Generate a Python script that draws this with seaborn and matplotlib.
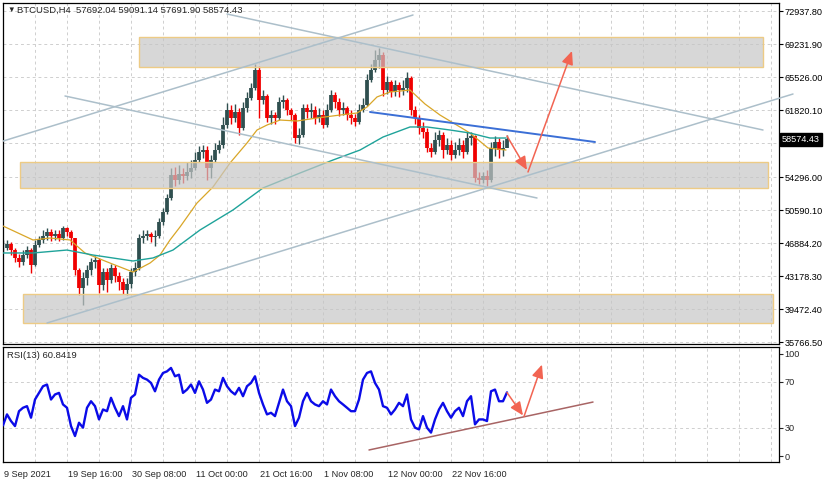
import numpy as np
import matplotlib
matplotlib.use("Agg")
import matplotlib.pyplot as plt
import matplotlib.transforms as mtransforms
from matplotlib.patches import Rectangle
import seaborn as sns

sns.set_style("white")
plt.rcParams['font.family'] = ['Liberation Sans', 'DejaVu Sans']
plt.rcParams['font.size'] = 6.6

# ---------------- data (H4 bars, every 4th bar) ----------------
closes = [46380, 46830, 46150, 45260, 44810, 45590, 46150, 44470, 46720, 47280,
          47730, 48180, 47730, 47950, 47500, 48630, 48180, 47500, 43910, 41890,
          43010, 43910, 44810, 45030, 42220, 43680, 42790, 44130, 43230, 42560,
          41660, 42340, 43680, 44130, 47500, 47730, 47950, 47610, 47730, 49300,
          50420, 51990, 54580, 54020, 54690, 54460, 54910, 55360, 56260, 57160,
          57380, 55360, 56260, 57380, 57950, 60190, 61880, 60980, 61650, 59850,
          62100, 63220, 64350, 66370, 63000, 63450, 60980, 61310, 60980, 62770,
          63000, 61880, 61310, 58730, 59070, 62100, 61650, 61880, 60980, 61310,
          60190, 61880, 63560, 62770, 61880, 62100, 61310, 60980, 60530, 61880,
          62440, 65250, 66370, 67490, 68050, 64120, 65020, 63900, 64680, 64120,
          64350, 65470, 61880, 60980, 59850, 59410, 57610, 57160, 58510, 59070,
          57380, 57950, 56820, 57380, 57950, 57160, 58730, 58960, 54240, 54020,
          54460, 54020, 57610, 58280, 57380, 57610, 58574.43]

highs = [47280, 47280, 47050, 46380, 45700, 46150, 46600, 46380, 47280, 47730,
         48400, 48630, 48510, 48400, 48400, 48850, 48740, 48400, 47500, 44130,
         43680, 44470, 45260, 45480, 45260, 44130, 44130, 44580, 44470, 43680,
         43010, 43010, 44130, 44810, 47950, 48400, 48400, 48180, 48400, 49750,
         50870, 52440, 55360, 55480, 55700, 55360, 56040, 56260, 57160, 57830,
         57950, 57830, 56820, 58170, 58510, 61090, 62660, 62440, 62550, 62100,
         62770, 63900, 64910, 67040, 66820, 64120, 63670, 61880, 61650, 63340,
         63560, 63220, 62100, 61540, 59850, 62550, 62550, 62660, 62330, 62100,
         61880, 62550, 64120, 63900, 63220, 62770, 62330, 61880, 61430, 62550,
         63220, 65920, 67040, 68610, 68840, 68390, 65690, 65250, 65250, 65020,
         65250, 66140, 65690, 62330, 61310, 60530, 59850, 58170, 59410, 59630,
         59410, 58730, 58510, 58280, 58730, 58510, 59410, 59410, 59070, 54910,
         54910, 55140, 58280, 58960, 58730, 58510, 59091.14]

lows = [45930, 46150, 45590, 44810, 44250, 44470, 45260, 43570, 44360, 46490,
        46940, 47280, 47170, 47280, 47170, 47280, 47730, 46720, 43350, 41100,
        39980, 42220, 43350, 44130, 41330, 41660, 41440, 42450, 42560, 41660,
        41210, 41100, 41890, 43230, 43910, 46940, 47280, 47050, 46600, 47500,
        48960, 50200, 51770, 53340, 53570, 53680, 54020, 54240, 55140, 56040,
        56490, 54020, 54240, 56040, 57050, 57610, 59850, 60300, 60530, 59070,
        59630, 61650, 63000, 64120, 60980, 62550, 60530, 60300, 60300, 60750,
        62100, 61310, 60750, 58170, 58060, 58840, 60980, 60980, 60300, 60530,
        59850, 59970, 61650, 62100, 61200, 61310, 60750, 60300, 60080, 60300,
        61650, 62330, 65020, 66140, 66590, 63450, 63670, 63340, 63450, 63340,
        63560, 63900, 61310, 60300, 59180, 58730, 57160, 56600, 56940, 57830,
        56490, 56940, 56260, 56490, 56820, 56490, 56940, 57950, 53790, 53570,
        53680, 53340, 53790, 56710, 56490, 56710, 57691.90]

rsi = [32, 41.6, 35.8, 31.4, 44.4, 47.4, 48.8, 38.7, 54.6, 60.4,
       66.2, 67.7, 54.6, 59, 60.4, 50.3, 47.4, 31.4, 22.7, 34.3,
       30, 47.4, 53.1, 48.8, 37.2, 45.9, 44.4, 56.1, 47.4, 40.1,
       48.8, 37.2, 56.1, 59, 76.3, 73.5, 72, 69.1, 61.8, 72,
       77.8, 79.2, 82.2, 74.9, 76.3, 60.4, 63.3, 67.7, 60.4, 70.5,
       63.3, 51.7, 54.6, 63.3, 61.8, 73.5, 66.2, 61.8, 59, 64.8,
       57.5, 66.2, 69.1, 74.9, 60.4, 50.3, 41.6, 43, 40.1, 51.7,
       63.3, 53.1, 48.8, 31.4, 38.7, 53.1, 60.4, 53.1, 50.3, 48.8,
       53.1, 50.3, 63.3, 57.5, 53.1, 50.3, 47.4, 44.4, 44.4, 54.6,
       72, 77.8, 79.2, 69.1, 63.3, 48.8, 47.4, 41.6, 45.9, 51.7,
       48.8, 59, 37.2, 30, 28.5, 40.1, 30, 25.7, 37.2, 45.9,
       51.7, 44.4, 38.7, 44.4, 47.4, 40.1, 53.1, 57.5, 32.9, 37.2,
       37.2, 35.8, 61.8, 63.3, 53.1, 53.1, 60.84]

# moving averages (bar index, price)
ma_fast_x = [0, 30, 47, 67, 82, 107, 130, 147, 157, 167, 177, 194, 210, 227, 244, 254,
             264, 277, 294, 314, 337, 354, 364, 374, 387, 407, 422, 437, 452, 467, 485, 503]
ma_fast_y = [48850, 47280, 47500, 47280, 45820, 44690, 43680, 44690, 45590, 47280, 48740,
             51430, 53230, 55920, 58170, 59630, 60190, 60750, 60640, 60980, 61310, 61540,
             62210, 63340, 63900, 64120, 62550, 61310, 60300, 59290, 57610, 57380]
ma_slow_x = [0, 30, 64, 90, 130, 150, 170, 197, 230, 260, 297, 330, 357, 380, 407, 424,
             447, 467, 487, 503]
ma_slow_y = [45820, 45820, 46150, 45590, 44920, 45260, 46150, 48400, 50650, 53120, 54800,
             56260, 57380, 58840, 59970, 59970, 59630, 59290, 58730, 58730]

# support / resistance zones
zone_left = [136, 17, 20]
zone_right = [760, 765, 770]
zone_low = [66705, 53117, 37956]
zone_high = [70075, 56037, 41213]

# trend lines
chan_up_x, chan_up_y = [-3, 410], [58283, 72545]
chan_low_x, chan_low_y = [44, 790], [37956, 63673]
down_up_x, down_up_y = [224, 760], [72657, 59630]
down_low_x, down_low_y = [62, 534], [63449, 51994]
blue_x, blue_y = [367, 592], [61652, 58283]

# forecast arrows
arrow1_x, arrow1_y = [504, 524], [58956, 55140]
arrow2_x, arrow2_y = [525, 569], [54914, 68502]
rsi_arrow1_x, rsi_arrow1_y = [504, 520], [60.7, 40.7]
rsi_arrow2_x, rsi_arrow2_y = [521, 539], [39.8, 85.1]
rsi_trend_x, rsi_trend_y = [366, 590], [10.5, 52.4]

price_ticks = [72937.80, 69231.90, 65526.00, 61820.10, 58114.20, 54296.00,
               50590.10, 46884.20, 43178.30, 39472.40, 35766.50]
time_pos = [0, 64, 128, 192, 256, 320, 384, 448]
time_labels = ['9 Sep 2021', '19 Sep 16:00', '30 Sep 08:00', '11 Oct 00:00',
               '21 Oct 16:00', '1 Nov 08:00', '12 Nov 00:00', '22 Nov 16:00']

# ---------------- figure ----------------
W, H = 830, 483
fig = plt.figure(figsize=(W / 100, H / 100), dpi=100, facecolor='white')
ax = fig.add_axes([2.7 / W, 1 - 344 / H, 776.3 / W, 341.3 / H])
ax2 = fig.add_axes([2.7 / W, 1 - 462 / H, 776.3 / W, 115 / H])

grid_kw = dict(color='#CFCFCF', lw=0.7, ls=(0, (3, 3)))
xlim = (-0.3, 776)

# candles
c = np.array(closes)
o = np.r_[c[0], c[:-1]]
hi = np.array(highs)
lo = np.array(lows)
bars = np.arange(len(c)) * 4
up = c >= o
bull, bear = '#2F4F4F', '#F00000'
ax.vlines(bars[up], lo[up], hi[up], color=bull, lw=1.0, zorder=2)
ax.vlines(bars[~up], lo[~up], hi[~up], color=bear, lw=1.0, zorder=2)
ax.vlines(bars[up], o[up], c[up], color=bull, lw=2.7, zorder=2)
ax.vlines(bars[~up], o[~up], c[~up], color=bear, lw=2.7, zorder=2)

sns.lineplot(x=ma_fast_x, y=ma_fast_y, ax=ax, color='#D9A628', lw=0.9, zorder=3)
sns.lineplot(x=ma_slow_x, y=ma_slow_y, ax=ax, color='#1FA39A', lw=1.0, zorder=3)

for l, r, zl, zh in zip(zone_left, zone_right, zone_low, zone_high):
    ax.add_patch(Rectangle((l, zl), r - l, zh - zl, fc='#C6C6C6', ec='none',
                           alpha=0.7, zorder=4))
    ax.add_patch(Rectangle((l, zl), r - l, zh - zl, fc='none', ec='#EDCB85',
                           lw=1.0, zorder=4.5))

tl = '#ACBFCA'
ax.plot(chan_up_x, chan_up_y, color=tl, lw=1.1, zorder=5)
ax.plot(chan_low_x, chan_low_y, color=tl, lw=1.1, zorder=5, clip_on=False)
ax.plot(down_up_x, down_up_y, color=tl, lw=1.1, zorder=5)
ax.plot(down_low_x, down_low_y, color=tl, lw=1.1, zorder=5)
ax.plot(blue_x, blue_y, color='#3B6FD6', lw=1.4, zorder=5)

arrow_kw = dict(arrowstyle='-|>,head_length=0.8,head_width=0.35', color='#F26452',
                lw=1.1, mutation_scale=10, shrinkA=0, shrinkB=0)
for xs, ys in [(arrow1_x, arrow1_y), (arrow2_x, arrow2_y)]:
    ax.annotate('', xy=(xs[1], ys[1]), xytext=(xs[0], ys[0]), arrowprops=arrow_kw, zorder=6)

ax.set_xlim(*xlim)
ax.set_ylim(35598, 73926)
ax.set_xticks(range(32, 776, 32))
ax.set_yticks(price_ticks)
# the 58114.20 label sits under the current-price box
ax.set_yticklabels(['' if v == 58114.20 else '%.2f' % v for v in price_ticks])
ax.yaxis.tick_right()
ax.tick_params(axis='x', length=0, labelbottom=False)
ax.tick_params(axis='y', direction='out', length=3, width=0.8, pad=1, labelsize=6.6, colors='black')
ax.grid(True, **grid_kw)
ax.set_xlabel('')
ax.set_ylabel('')

ax.text(1.004, closes[-1], '%.2f' % closes[-1], transform=mtransforms.blended_transform_factory(ax.transAxes, ax.transData),
        color='white', fontsize=6.6, va='center', ha='left', clip_on=False, zorder=10,
        bbox=dict(boxstyle='square,pad=0.2', fc='black', ec='black'))

# ---------------- RSI ----------------
sns.lineplot(x=bars, y=rsi, ax=ax2, color='#0B0BE8', lw=1.7, zorder=3)
ax2.plot(rsi_trend_x, rsi_trend_y, color='#A86464', lw=1.1, zorder=4)
for xs, ys in [(rsi_arrow1_x, rsi_arrow1_y), (rsi_arrow2_x, rsi_arrow2_y)]:
    ax2.annotate('', xy=(xs[1], ys[1]), xytext=(xs[0], ys[0]), arrowprops=arrow_kw, zorder=6)
for lvl in (70, 30):
    ax2.axhline(lvl, **grid_kw, zorder=1)

ax2.set_xlim(*xlim)
ax2.set_ylim(0, 100.5)
ax2.set_xticks(time_pos)
ax2.set_xticklabels(time_labels, ha='left')
ax2.set_xticks([p for p in range(32, 776, 32) if p not in time_pos], minor=True)
ax2.tick_params(axis='x', which='major', direction='out', length=4, width=0.8, pad=2, labelsize=6.6)
ax2.tick_params(axis='x', which='minor', length=0)
ax2.grid(True, axis='x', which='both', **grid_kw)
ax2.set_yticks([94.4, 70, 30, 5.2])
ax2.set_yticklabels(['100', '70', '30', '0'])
ax2.yaxis.tick_right()
ax2.tick_params(axis='y', direction='out', length=3, width=0.8, pad=1, labelsize=6.6)
ax2.set_xlabel('')
ax2.set_ylabel('')
shift = mtransforms.ScaledTranslation(1.5 / 100, 0, fig.dpi_scale_trans)
for lbl in ax2.get_xticklabels():
    lbl.set_transform(lbl.get_transform() + shift)

for a in (ax, ax2):
    for s in a.spines.values():
        s.set_color('black')
        s.set_linewidth(0.9)

fig.text(7 / W, 1 - 10.5 / H, '\u25bc', fontsize=5.5, va='center', ha='left')
fig.text(17 / W, 1 - 10.5 / H, 'BTCUSD,H4  57692.04 59091.14 57691.90 58574.43',
         fontsize=6.8, va='center', ha='left')
fig.text(7 / W, 1 - 356 / H, 'RSI(13) 60.8419', fontsize=6.8, va='center', ha='left')

fig.savefig('out.png', dpi=100, facecolor='white')
